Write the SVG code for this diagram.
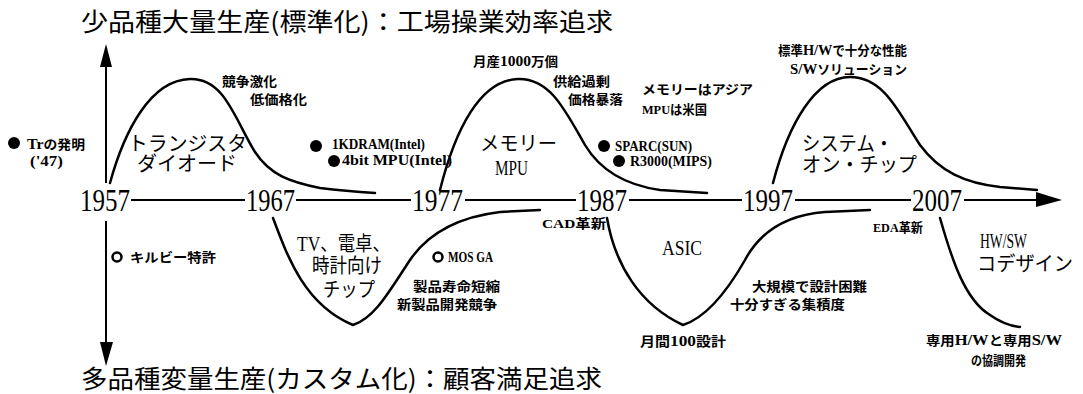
<svg xmlns="http://www.w3.org/2000/svg" width="1083" height="394" viewBox="0 0 1083 394">
<style>
.t{font-family:"Noto Sans CJK JP",sans-serif;font-size:25px;fill:#000}
.y{font-family:"Liberation Serif",serif;font-size:32px;fill:#000}
.s{font-family:"Liberation Serif","Noto Sans CJK JP",serif;font-size:13px;font-weight:bold;fill:#000}
.s tspan{font-size:15px}
.l{font-family:"Liberation Serif",serif;font-size:15px;font-weight:bold;fill:#000}
.b{font-family:"Liberation Serif","Noto Sans CJK JP",serif;font-size:20px;fill:#000}
.c{fill:none;stroke:#000;stroke-width:2.5;stroke-linecap:round;stroke-linejoin:round}
.a{fill:none;stroke:#000;stroke-width:2}
.o{fill:#fff;stroke:#000;stroke-width:2.5}
</style>
<rect width="1083" height="394" fill="#fff"/>
<g id="connectors">
<line class="a" x1="106" y1="66" x2="106" y2="183"/>
<polygon points="106,44 100,67 112,67"/>
<line class="a" x1="106" y1="221" x2="106" y2="344"/>
<polygon points="100,342 113,342 106,366"/>
<path class="a" d="M131,200H245M296,200H411M465,200H576M629,200H742M795,200H911M964,200H1040"/>
<polygon points="1036,192 1062,200 1036,207"/>
<path class="c" d="M110,183C124,132 150,80 190,79C225,78 235,120 255,152C270,175 290,182 320,188Q345,191 375,193"/>
<path class="c" d="M440,190C455,130 480,80 518,79C550,78 565,110 585,145C600,170 625,185 660,190L707,193"/>
<path class="c" d="M773,183C788,125 815,77 850,77C885,77 900,115 920,145C940,172 965,183 1000,187L1037,190"/>
<path class="c" d="M273,218C288,258 305,305 353,325C375,318 390,290 410,260C425,238 450,218 500,212L540,210"/>
<path class="c" d="M607,218C615,265 640,305 683,325C705,318 725,295 745,260C760,232 785,215 825,212L870,210"/>
<path class="c" d="M940,218C952,260 965,300 990,315C1000,322 1010,326 1020,327"/>
</g>
<g id="title-top"><text class="t" x="81" y="31" textLength="532" lengthAdjust="spacingAndGlyphs">少品種大量生産(標準化)：工場操業効率追求</text></g>
<g id="title-bottom"><text class="t" x="81" y="388" textLength="521" lengthAdjust="spacingAndGlyphs">多品種変量生産(カスタム化)：顧客満足追求</text></g>
<g id="years">
<text class="y" x="80" y="211" textLength="50" lengthAdjust="spacingAndGlyphs">1957</text>
<text class="y" x="246" y="211" textLength="49" lengthAdjust="spacingAndGlyphs">1967</text>
<text class="y" x="412" y="211" textLength="51" lengthAdjust="spacingAndGlyphs">1977</text>
<text class="y" x="577" y="211" textLength="50" lengthAdjust="spacingAndGlyphs">1987</text>
<text class="y" x="743" y="211" textLength="50" lengthAdjust="spacingAndGlyphs">1997</text>
<text class="y" x="912" y="211" textLength="50" lengthAdjust="spacingAndGlyphs">2007</text>
</g>
<g id="tr">
<circle cx="14" cy="143" r="6"/>
<text class="s" x="27" y="149" textLength="58" lengthAdjust="spacingAndGlyphs"><tspan>Tr</tspan>の発明</text>
<text class="l" x="30" y="166" textLength="33" lengthAdjust="spacingAndGlyphs">('47)</text>
</g>
<g id="transistor">
<text class="b" x="128" y="151" font-size="19" textLength="119" lengthAdjust="spacingAndGlyphs">トランジスタ</text>
<text class="b" x="137" y="171" font-size="19" textLength="100" lengthAdjust="spacingAndGlyphs">ダイオード</text>
</g>
<g id="competition">
<text class="s" x="222" y="86" textLength="55" lengthAdjust="spacingAndGlyphs">競争激化</text>
<text class="s" x="250" y="104" textLength="57" lengthAdjust="spacingAndGlyphs">低価格化</text>
</g>
<g id="intel">
<circle cx="316" cy="146" r="6"/>
<text class="l" x="332" y="149" textLength="93" lengthAdjust="spacingAndGlyphs">1KDRAM(Intel)</text>
<circle cx="334" cy="161" r="6"/>
<text class="l" x="342" y="165" textLength="110" lengthAdjust="spacingAndGlyphs">4bit MPU(Intel)</text>
</g>
<g id="memory-notes">
<text class="s" x="473" y="66" textLength="85" lengthAdjust="spacingAndGlyphs">月産<tspan>1000</tspan>万個</text>
<text class="s" x="553" y="86" textLength="57" lengthAdjust="spacingAndGlyphs">供給過剰</text>
<text class="s" x="568" y="104" textLength="55" lengthAdjust="spacingAndGlyphs">価格暴落</text>
</g>
<g id="memory">
<text class="b" x="480" y="151" textLength="77" lengthAdjust="spacingAndGlyphs">メモリー</text>
<text class="b" x="495" y="175" font-size="22" textLength="33" lengthAdjust="spacingAndGlyphs">MPU</text>
</g>
<g id="asia">
<text class="s" x="642" y="94" textLength="111" lengthAdjust="spacingAndGlyphs">メモリーはアジア</text>
<text class="s" x="642" y="114" textLength="65" lengthAdjust="spacingAndGlyphs">MPUは米国</text>
</g>
<g id="risc">
<circle cx="604" cy="146" r="6"/>
<text class="l" x="615" y="151" textLength="77" lengthAdjust="spacingAndGlyphs">SPARC(SUN)</text>
<circle cx="619" cy="161" r="6"/>
<text class="l" x="630" y="166" textLength="82" lengthAdjust="spacingAndGlyphs">R3000(MIPS)</text>
</g>
<g id="soc-notes">
<text class="s" x="778" y="55" textLength="129" lengthAdjust="spacingAndGlyphs">標準<tspan>H/W</tspan>で十分な性能</text>
<text class="s" x="790" y="74" textLength="117" lengthAdjust="spacingAndGlyphs"><tspan>S/W</tspan>ソリューション</text>
</g>
<g id="soc">
<text class="b" x="802" y="151" textLength="91" lengthAdjust="spacingAndGlyphs">システム・</text>
<text class="b" x="802" y="172" textLength="115" lengthAdjust="spacingAndGlyphs">オン・チップ</text>
</g>
<g id="kilby">
<circle class="o" cx="117" cy="257" r="4.5"/>
<text class="s" x="130" y="262" textLength="86" lengthAdjust="spacingAndGlyphs">キルビー特許</text>
</g>
<g id="tv">
<text class="b" x="297" y="251" textLength="93" lengthAdjust="spacingAndGlyphs">TV、電卓、</text>
<text class="b" x="312" y="273" textLength="70" lengthAdjust="spacingAndGlyphs">時計向け</text>
<text class="b" x="323" y="297" textLength="52" lengthAdjust="spacingAndGlyphs">チップ</text>
</g>
<g id="mosga">
<circle class="o" cx="438" cy="257" r="4.5"/>
<text class="l" x="448" y="262" font-size="14" textLength="45" lengthAdjust="spacingAndGlyphs">MOS GA</text>
<text class="s" x="413" y="291" textLength="87" lengthAdjust="spacingAndGlyphs">製品寿命短縮</text>
<text class="s" x="397" y="309" textLength="100" lengthAdjust="spacingAndGlyphs">新製品開発競争</text>
</g>
<g id="cad"><text class="s" x="542" y="228" textLength="64" lengthAdjust="spacingAndGlyphs">CAD革新</text></g>
<g id="asic">
<text class="b" x="662" y="255" font-size="24" textLength="40" lengthAdjust="spacingAndGlyphs">ASIC</text>
<text class="s" x="752" y="291" textLength="115" lengthAdjust="spacingAndGlyphs">大規模で設計困難</text>
<text class="s" x="730" y="309" textLength="115" lengthAdjust="spacingAndGlyphs">十分すぎる集積度</text>
<text class="s" x="640" y="346" textLength="86" lengthAdjust="spacingAndGlyphs">月間<tspan>100</tspan>設計</text>
</g>
<g id="eda"><text class="s" x="873" y="232" textLength="50" lengthAdjust="spacingAndGlyphs">EDA革新</text></g>
<g id="codesign">
<text class="b" x="980" y="248" font-size="22" textLength="47" lengthAdjust="spacingAndGlyphs">HW/SW</text>
<text class="b" x="977" y="271" textLength="96" lengthAdjust="spacingAndGlyphs">コデザイン</text>
<text class="s" x="926" y="345" textLength="136" lengthAdjust="spacingAndGlyphs">専用<tspan>H/W</tspan>と専用<tspan>S/W</tspan></text>
<text class="s" x="971" y="365" textLength="55" lengthAdjust="spacingAndGlyphs">の協調開発</text>
</g>
</svg>
